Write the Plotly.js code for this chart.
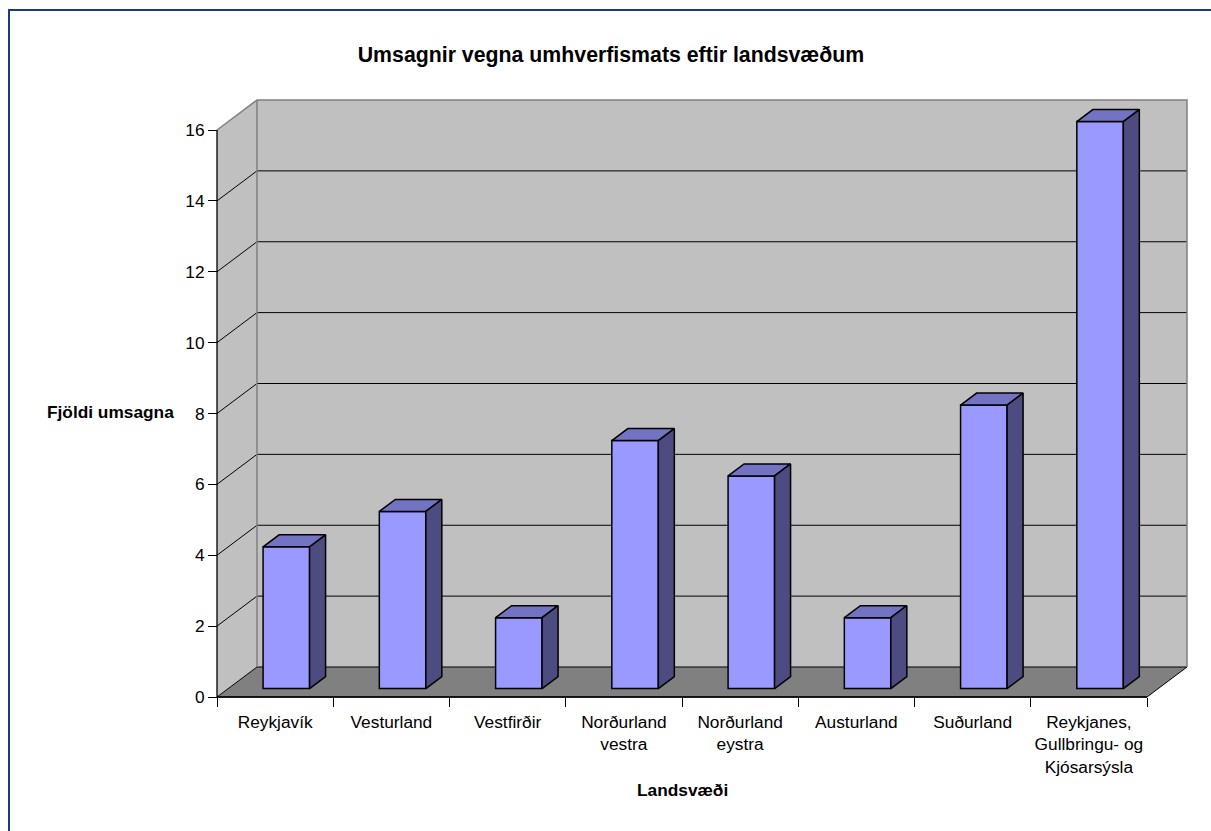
<!DOCTYPE html>
<html><head><meta charset="utf-8">
<script src="https://cdn.plot.ly/plotly-3.0.1.min.js"></script>
<style>html,body{margin:0;padding:0;background:#fff;} #chart{width:1211px;height:831px;}</style>
</head><body><div id="chart"></div>
<script>
// ---- data ----
const categories = ["Reykjavík", "Vesturland", "Vestfirðir", "Norðurland<br>vestra", "Norðurland<br>eystra", "Austurland", "Suðurland", "Reykjanes,<br>Gullbringu- og<br>Kjósarsýsla"];
const values = [4, 5, 2, 7, 6, 2, 8, 16];
const yTicks = [0, 2, 4, 6, 8, 10, 12, 14, 16];
const chartTitle = "Umsagnir vegna umhverfismats eftir landsvæðum";
const xTitle = "Landsvæði";
const yTitle = "Fjöldi umsagna";

// ---- geometry (pseudo 3D) ----
const N = categories.length;
const yMax = yTicks[yTicks.length - 1];
const PXX = 116.25, PXY = 35.4375;     // pixels per unit
const DX = 40 / PXX, DY = 30 / PXY;    // wall depth
const PADX = 4 / PXX, PADY = 4 / PXY;
const W = 0.4, Z0 = 0.28, BD = 0.4;
const idx = categories.map((_, i) => i);
const bounds = [];
for (let i = 0; i <= N; i++) bounds.push(i - 0.5);
const xl0 = -0.5, xr0 = N - 0.5;
const font = "Arial, 'Liberation Sans', sans-serif";

const L = 213, T = 96, PW = 978, PH = 605;
const px = v => (v - L) / PW, py = v => (T + PH - v) / PH;

const shapes = [];
function path(pts, close) {
  return pts.map((p, k) => (k ? 'L' : 'M') + p[0] + ',' + p[1]).join(' ') + (close ? ' Z' : '');
}
// walls
shapes.push({type: 'path', xref: 'x', yref: 'y', layer: 'below', fillcolor: '#c0c0c0', line: {width: 0},
  path: path([[xl0, 0], [xl0, yMax], [xl0 + DX, yMax + DY], [xl0 + DX, DY]], true)});
shapes.push({type: 'path', xref: 'x', yref: 'y', layer: 'below', fillcolor: '#c0c0c0', line: {width: 0},
  path: path([[xl0 + DX, DY], [xl0 + DX, yMax + DY], [xr0 + DX, yMax + DY], [xr0 + DX, DY]], true)});
// gridlines
yTicks.filter(v => v > 0 && v < yMax).forEach(v => {
  shapes.push({type: 'path', xref: 'x', yref: 'y', layer: 'below', line: {color: '#000', width: 1},
    path: path([[xl0, v], [xl0 + DX, v + DY], [xr0 + DX, v + DY]], false)});
});
// floor
shapes.push({type: 'path', xref: 'x', yref: 'y', layer: 'below', fillcolor: '#808080', line: {color: '#000', width: 1},
  path: path([[xl0, 0], [xl0 + DX, DY], [xr0 + DX, DY], [xr0, 0]], true)});
// wall edges
shapes.push({type: 'path', xref: 'x', yref: 'y', layer: 'below', line: {color: '#808080', width: 1.5},
  path: path([[xl0, yMax], [xl0 + DX, yMax + DY], [xr0 + DX, yMax + DY], [xr0 + DX, DY]], false)});
shapes.push({type: 'path', xref: 'x', yref: 'y', layer: 'below', line: {color: '#808080', width: 1.5},
  path: path([[xl0 + DX, DY], [xl0 + DX, yMax + DY]], false)});
// front axis lines
shapes.push({type: 'path', xref: 'x', yref: 'y', layer: 'below', line: {color: '#000', width: 1.3},
  path: path([[xl0, yMax], [xl0, 0], [xr0, 0]], false)});
// outer border
shapes.push({type: 'rect', xref: 'paper', yref: 'paper', x0: px(9), x1: px(1230), y0: py(850), y1: py(10),
  line: {color: '#17407a', width: 2}, fillcolor: 'rgba(0,0,0,0)'});

// bar top and side faces
const topX = [], topY = [], sideX = [], sideY = [];
const ox = BD * DX, oy = BD * DY, yb = Z0 * DY;
values.forEach((v, i) => {
  const xl = i + Z0 * DX - W / 2, xr = xl + W, yt = v + yb;
  topX.push(xl, xr, xr + ox, xl + ox, xl, null);
  topY.push(yt, yt, yt + oy, yt + oy, yt, null);
  sideX.push(xr, xr, xr + ox, xr + ox, xr, null);
  sideY.push(yb, yt, yt + oy, yb + oy, yb, null);
});

const traces = [
  {type: 'bar', x: idx, y: values, base: yb, width: W, offset: Z0 * DX - W / 2,
   marker: {color: '#9999ff', line: {color: '#000', width: 1.5}}, hoverinfo: 'skip', showlegend: false},
  {type: 'scatter', mode: 'lines', x: topX, y: topY, fill: 'toself', fillcolor: '#7373c4',
   line: {color: '#000', width: 1.5}, hoverinfo: 'skip', showlegend: false},
  {type: 'scatter', mode: 'lines', x: sideX, y: sideY, fill: 'toself', fillcolor: '#4c4c80',
   line: {color: '#000', width: 1.5}, hoverinfo: 'skip', showlegend: false}
];

const layout = {
  width: 1211, height: 831,
  margin: {l: L, r: 1211 - L - PW, t: T, b: 831 - T - PH, pad: 0},
  paper_bgcolor: '#fff', plot_bgcolor: 'rgba(0,0,0,0)',
  showlegend: false,
  font: {family: font, size: 17.3, color: '#000'},
  title: {text: chartTitle, font: {family: font, size: 21.3, weight: 'bold', color: '#000'},
    xref: 'container', yref: 'container', x: 611 / 1211, y: 1 - 55 / 831, xanchor: 'center', yanchor: 'middle'},
  xaxis: {type: 'linear', range: [xl0 - PADX, xr0 + DX + PADX], anchor: 'free', position: PADY / (yMax + DY + 2 * PADY),
    tickmode: 'array', tickvals: idx, ticktext: categories, ticks: 'outside', ticklen: 9, tickcolor: 'rgba(0,0,0,0)',
    minor: {tickmode: 'array', tickvals: bounds, ticks: 'outside', ticklen: 9, tickcolor: '#000', tickwidth: 1, showgrid: false},
    showgrid: false, zeroline: false, showline: false, fixedrange: true,
    tickfont: {family: font, size: 17.3, color: '#000'}},
  yaxis: {type: 'linear', range: [-PADY, yMax + DY + PADY], anchor: 'free', position: PADX / (N + DX + 2 * PADX),
    tickmode: 'array', tickvals: yTicks, ticks: 'outside', ticklen: 9, tickcolor: '#000', tickwidth: 1,
    showgrid: false, zeroline: false, showline: false, fixedrange: true,
    tickfont: {family: font, size: 17.3, color: '#000'}},
  shapes: shapes,
  annotations: [
    {text: yTitle, xref: 'paper', yref: 'paper', x: px(110.5), y: py(412), xanchor: 'center', yanchor: 'middle',
     showarrow: false, font: {family: font, size: 17.3, weight: 'bold', color: '#000'}},
    {text: xTitle, xref: 'paper', yref: 'paper', x: px(682), y: py(790), xanchor: 'center', yanchor: 'middle',
     showarrow: false, font: {family: font, size: 17.3, weight: 'bold', color: '#000'}}
  ]
};

Plotly.newPlot('chart', traces, layout, {displayModeBar: false, responsive: false});
</script>
</body></html>
